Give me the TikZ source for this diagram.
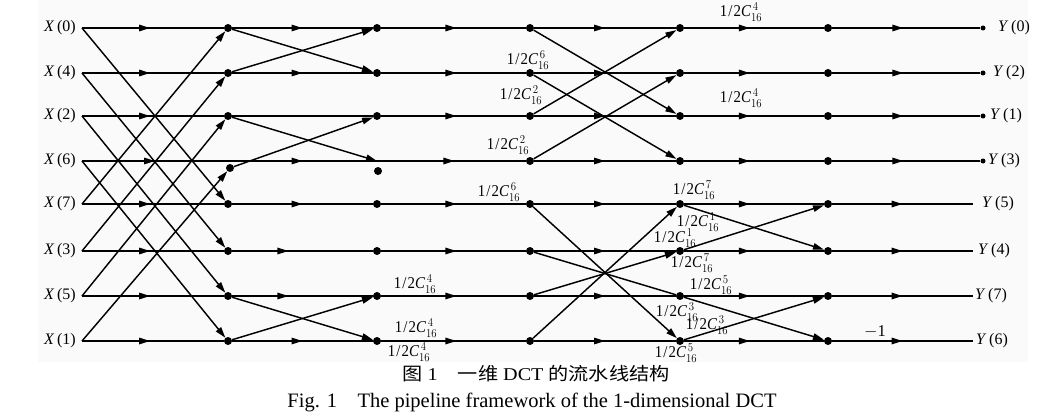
\documentclass[tikz,border=0pt]{standalone}
\usepackage{fontspec}
\setmainfont{Liberation Serif}
\newfontfamily\cjk{Noto Sans CJK SC}
\usetikzlibrary{arrows.meta,decorations.markings}
\newcommand\coefl[1]{\scalebox{0.9}[1]{1\kern1.2pt/\kern1.2pt2\textit{C}\ensuremath{^{\,#1}_{16}}}}
\begin{document}
\begin{tikzpicture}[x=1pt,y=-1pt,
  wire/.style={line width=1.45pt},
  tipd/.style={-{Triangle[length=11pt,width=6.5pt]}},
  marr/.style={postaction={decorate},decoration={markings,mark=at position #1 with {\arrow{Triangle[length=11pt,width=6.5pt]}}}},
  dot/.style={circle,fill,inner sep=0pt,minimum size=8pt},
  edot/.style={circle,fill,inner sep=0pt,minimum size=5pt},
  lab/.style={font=\fontsize{16}{19}\selectfont,inner sep=0pt},
  cf/.style={font=\fontsize{16.5}{19}\selectfont,inner sep=0pt},
]
\useasboundingbox (0,0) rectangle (1043,417);
\fill[black!2] (38,0) rectangle (1028,362);

% ---------- input labels and start points ----------
\foreach \r/\y/\n in {0/28/0,1/73/4,2/116/2,3/161/6,4/204/7,5/251/3,6/296/5,7/341/1}{
  \coordinate (in\r) at (82,\y);
  \node[lab,anchor=east] (xl\r) at (76,\y) {\textit{X}\,(\n)};
}
% ---------- column nodes ----------
\foreach \r/\y in {0/28,1/73,2/116,4/204,5/251,6/296,7/341}{
  \node[dot] (c1r\r) at (228,\y) {};
  \node[dot] (c2r\r) at (377,\y) {};
}
\coordinate (h31) at (228,161);
\coordinate (h32) at (377,161);
\node[dot] (d31) at (230,168) {};
\node[dot] (d32) at (378,171) {};
\foreach \r/\y in {0/28,1/73,2/116,3/161,4/204,5/251,6/296,7/341}{
  \node[dot] (c3r\r) at (530,\y) {};
  \node[dot] (c4r\r) at (680,\y) {};
  \node[dot] (c5r\r) at (828,\y) {};
}
% ---------- outputs ----------
\foreach \r/\y/\n/\lx in {0/28/0/998,1/73/2/993,2/116/1/990,3/161/3/988}{
  \node[edot] (o\r) at (983,\y) {};
  \node[lab,anchor=west] (yl\r) at (\lx,\y) {\textit{Y}\,(\n)};
}
\foreach \r/\y/\n/\lx in {4/204/5/982,5/251/4/978,6/296/7/975,7/341/6/976}{
  \coordinate (o\r) at (973,\y);
  \node[lab,anchor=west] (yl\r) at (\lx,\y) {\textit{Y}\,(\n)};
}

% ---------- stage 1 ----------
\foreach \r in {0,1,2,4,5,6,7}{ \draw[wire,marr=0.48] (in\r) -- (c1r\r); }
\draw[wire,marr=0.5] (in3) -- (h31);
\draw[wire,tipd] (in0) -- (c1r4);
\draw[wire,tipd] (in1) -- (c1r5);
\draw[wire,tipd] (in2) -- (c1r6);
\draw[wire,tipd] (in3) -- (c1r7);
\draw[wire,tipd] (in4) -- (c1r0);
\draw[wire,tipd] (in5) -- (c1r1);
\draw[wire,tipd] (in6) -- (c1r2);
\draw[wire,tipd] (in7) -- (d31);

% ---------- stage 2 ----------
\foreach \r in {0,1,4,7}{ \draw[wire,marr=0.5] (c1r\r) -- (c2r\r); }
\foreach \r in {5,6}{ \draw[wire,marr=0.4] (c1r\r) -- (c2r\r); }
\draw[wire] (c1r2) -- (c2r2);
\draw[wire,marr=0.5] (h31) -- (h32);
\draw[wire,tipd] (c1r0) -- (c2r1);
\draw[wire,tipd] (c1r1) -- (c2r0);
\draw[wire,tipd] (c1r2) -- (h32);
\draw[wire,tipd] (d31) -- (c2r2);
\draw[wire,tipd] (c1r6) -- (c2r7);
\draw[wire,tipd] (c1r7) -- (c2r6);

% ---------- stage 3 ----------
\foreach \r in {0,1,2,4,5,6,7}{ \draw[wire,marr=0.52] (c2r\r) -- (c3r\r); }
\draw[wire,marr=0.52] (h32) -- (c3r3);

% ---------- stage 4 ----------
\foreach \r in {0,...,7}{ \draw[wire,marr=0.5] (c3r\r) -- (c4r\r); }
\draw[wire,tipd] (c3r0) -- (c4r2);
\draw[wire,tipd] (c3r1) -- (c4r3);
\draw[wire,tipd] (c3r2) -- (c4r0);
\draw[wire,tipd] (c3r3) -- (c4r1);
\draw[wire,tipd] (c3r4) -- (c4r7);
\draw[wire] (c3r5) -- (c4r6);
\draw[wire,tipd] (c3r6) -- (c4r5);
\draw[wire,tipd] (c3r7) -- (c4r4);

% ---------- stage 5 ----------
\foreach \r in {0,...,7}{ \draw[wire,marr=0.47] (c4r\r) -- (c5r\r); }
\draw[wire,tipd] (c4r4) -- (c5r5);
\draw[wire,tipd] (c4r5) -- (c5r4);
\draw[wire,tipd] (c4r6) -- (c5r7);
\draw[wire,tipd] (c4r7) -- (c5r6);

% ---------- stage 6 ----------
\foreach \r in {0,1,2,3}{ \draw[wire,marr=0.48] (c5r\r) -- (o\r); }
\foreach \r in {4,5,6,7}{ \draw[wire,marr=0.5] (c5r\r) -- (o\r); }

% ---------- coefficient labels ----------
\node[cf] (k1) at (415,284) {\coefl{4}};
\node[cf] (k2) at (416,328) {\coefl{4}};
\node[cf] (k3) at (409,352) {\coefl{4}};
\node[cf] (k4) at (528,60) {\coefl{6}};
\node[cf] (k5) at (521,95) {\coefl{2}};
\node[cf] (k6) at (508,145) {\coefl{2}};
\node[cf] (k7) at (499,192) {\coefl{6}};
\node[cf] (k8) at (741,12) {\coefl{4}};
\node[cf] (k9) at (741,98) {\coefl{4}};
\node[cf] (k10) at (694,190) {\coefl{7}};
\node[cf] (k11) at (698,222) {\coefl{1}};
\node[cf] (k12) at (675,238) {\coefl{1}};
\node[cf] (k13) at (692,263) {\coefl{7}};
\node[cf] (k14) at (711,285) {\coefl{5}};
\node[cf] (k15) at (677,312) {\coefl{3}};
\node[cf] (k16) at (707,325) {\coefl{3}};
\node[cf] (k17) at (676,353) {\coefl{5}};
\node[cf] (m1) at (875,332) {$-$1};

% ---------- captions ----------
\node[inner sep=0pt] (cap1) at (536,374) {\scalebox{1.12}[1]{\fontsize{18}{20}\selectfont{\cjk 图} 1\quad{\cjk 一维} DCT {\cjk 的流水线结构}}};
\node[inner sep=0pt,font=\fontsize{20.5}{23}\selectfont] (cap2) at (532,402) {Fig. 1\quad The pipeline framework of the 1-dimensional DCT};
\end{tikzpicture}
\end{document}
